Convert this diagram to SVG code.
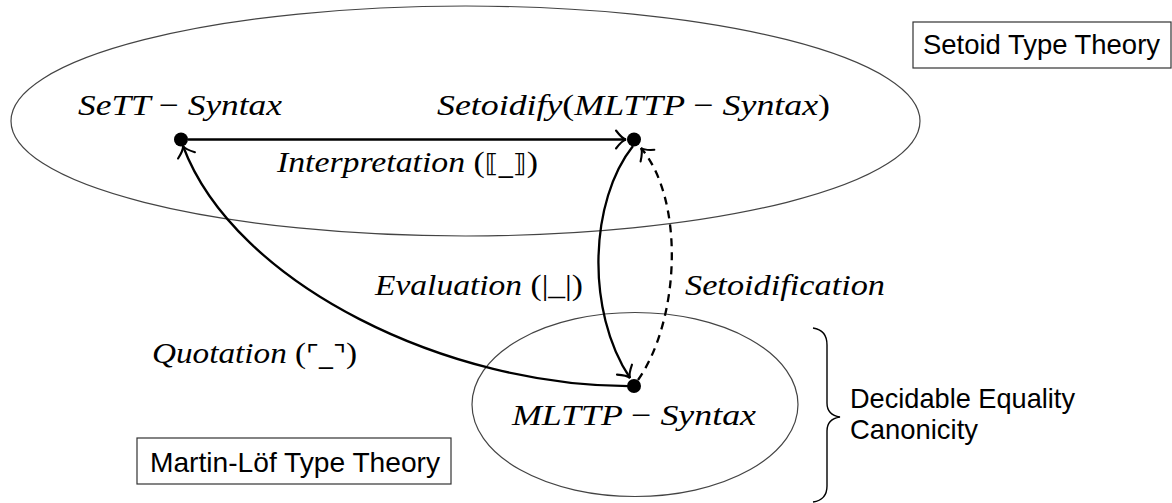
<svg xmlns="http://www.w3.org/2000/svg" width="1172" height="503" viewBox="0 0 1172 503">
<style>
.region{fill:none;stroke:#444;stroke-width:1.2}
.box{fill:#fff;stroke:#333;stroke-width:1.2}
.dot{fill:#000}
.edge{fill:none;stroke:#000;stroke-width:2.3}
.dash{stroke-dasharray:8 6}
.math{font-family:"Liberation Serif","DejaVu Serif",serif;font-style:italic;font-size:30px;fill:#000}
.up{font-style:normal}
.sym{font-family:"DejaVu Sans","Liberation Serif",serif;font-style:normal;font-size:25px}
.sans{font-family:"Liberation Sans","DejaVu Sans",sans-serif;font-size:28px;fill:#000}
</style>
<defs>
<marker id="to" markerUnits="userSpaceOnUse" markerWidth="24" markerHeight="24" viewBox="-12 -12 24 24" refX="0" refY="0" orient="auto" overflow="visible">
<path d="M-10,-9 Q-4,-1 0,0 Q-4,1 -10,9" fill="none" stroke="#000" stroke-width="2.1" stroke-linecap="round"/>
</marker>
</defs>

<g id="setoid-region">
<ellipse class="region" cx="465.5" cy="121" rx="454.5" ry="115"/>
</g>
<g id="mltt-region">
<ellipse class="region" cx="635" cy="404.5" rx="163" ry="92"/>
</g>

<g id="setoid-label">
<rect class="box" x="913" y="22" width="258" height="46"/>
<text class="sans" x="923" y="54" textLength="237" lengthAdjust="spacingAndGlyphs">Setoid Type Theory</text>
</g>
<g id="mltt-label">
<rect class="box" x="137" y="438" width="314" height="46"/>
<text class="sans" x="150" y="472" textLength="290" lengthAdjust="spacingAndGlyphs">Martin-Löf Type Theory</text>
</g>

<g id="properties">
<path d="M813,328 Q827,330 827,345 L827,403 Q827,415 840,417 Q827,419 827,431 L827,486 Q827,500 813,502" fill="none" stroke="#000" stroke-width="1.4"/>
<text class="sans" x="850" y="408" textLength="225" lengthAdjust="spacingAndGlyphs">Decidable Equality</text>
<text class="sans" x="850" y="439" textLength="128" lengthAdjust="spacingAndGlyphs">Canonicity</text>
</g>

<g id="connectors">
<path class="edge" d="M188,139.5 L626,139.5" marker-end="url(#to)"/>
<path class="edge" d="M633,146 C590,200 585,310 630,378" marker-end="url(#to)"/>
<path class="edge dash" d="M638,380 C680,320 685,200 641,148" marker-end="url(#to)"/>
<path class="edge" d="M634,386 C450,388 235,285 183,146" marker-end="url(#to)"/>
</g>

<g id="edge-labels">
<text class="math" x="277" y="172" textLength="261" lengthAdjust="spacingAndGlyphs">Interpretation <tspan class="up">(</tspan><tspan class="sym">⟦_⟧</tspan><tspan class="up">)</tspan></text>
<text class="math" x="375" y="295" textLength="208" lengthAdjust="spacingAndGlyphs">Evaluation <tspan class="up">(|_|)</tspan></text>
<text class="math" x="685" y="295" textLength="200" lengthAdjust="spacingAndGlyphs">Setoidification</text>
<text class="math" x="152" y="363" textLength="205" lengthAdjust="spacingAndGlyphs">Quotation <tspan class="up">(</tspan><tspan class="sym">⌜_⌝</tspan><tspan class="up">)</tspan></text>
</g>

<g id="sett-syntax">
<circle class="dot" cx="181" cy="139.5" r="7"/>
<text class="math" x="78" y="115" textLength="204" lengthAdjust="spacingAndGlyphs">SeTT <tspan class="up">−</tspan> Syntax</text>
</g>
<g id="setoidify-mlttp">
<circle class="dot" cx="634" cy="139.5" r="7"/>
<text class="math" x="437" y="115" textLength="393" lengthAdjust="spacingAndGlyphs">Setoidify<tspan class="up">(</tspan>MLTTP <tspan class="up">−</tspan> Syntax<tspan class="up">)</tspan></text>
</g>
<g id="mlttp-syntax">
<circle class="dot" cx="634" cy="386" r="7"/>
<text class="math" x="512" y="425" textLength="244" lengthAdjust="spacingAndGlyphs">MLTTP <tspan class="up">−</tspan> Syntax</text>
</g>
</svg>
